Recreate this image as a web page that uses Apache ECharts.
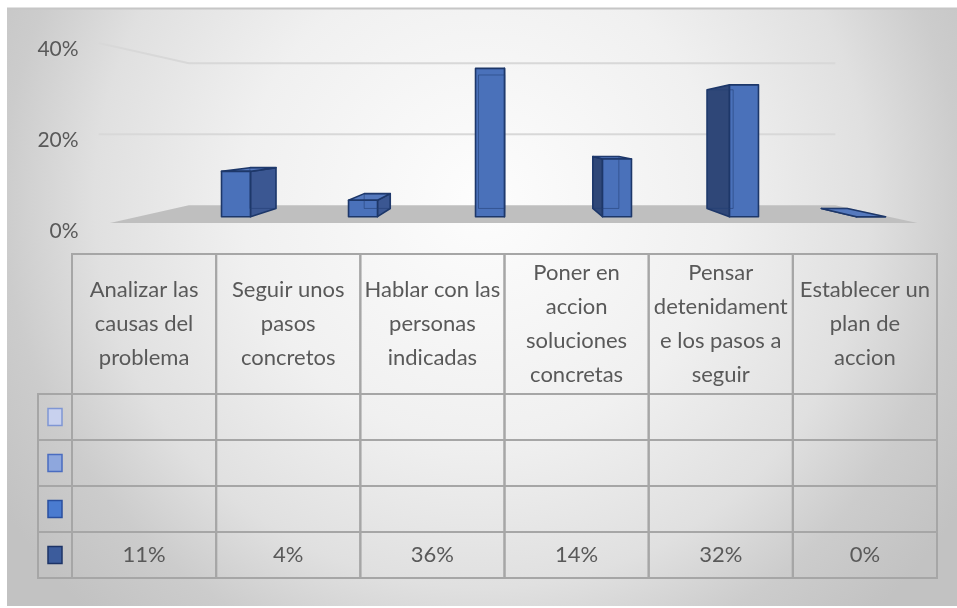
<!DOCTYPE html>
<html>
<head>
<meta charset="utf-8">
<script src="https://cdn.jsdelivr.net/npm/echarts@6/dist/echarts.min.js"></script>
<style>
  html, body { margin: 0; padding: 0; background: #ffffff; }
  #chart { width: 957px; height: 608px; }
</style>
</head>
<body>
<div id="chart"></div>
<script>
// ---- data ----
const categories = [
  'Analizar las causas del problema',
  'Seguir unos pasos concretos',
  'Hablar con las personas indicadas',
  'Poner en accion soluciones concretas',
  'Pensar detenidamente los pasos a seguir',
  'Establecer un plan de accion'
];
// header text of the data table, wrapped the way the cells wrap it
const headerLines = [
  ['Analizar las', 'causas del', 'problema'],
  ['Seguir unos', 'pasos', 'concretos'],
  ['Hablar con las', 'personas', 'indicadas'],
  ['Poner en', 'accion', 'soluciones', 'concretas'],
  ['Pensar', 'detenidament', 'e los pasos a', 'seguir'],
  ['Establecer un', 'plan de', 'accion']
];
const values = [11, 4, 36, 14, 32, 0];
const yTicks = [0, 20, 40];

// ---- styling ----
const FONT = 'Lato, "Noto Sans", sans-serif';
const TEXT = '#595959';
const GRID_LINE = '#d8d8d8';
const FLOOR = '#bfbfbf';
const FRONT = '#4a71ba';
const SIDE_R = '#3b5792';
const SIDE_L = '#2f4778';
const TOP = '#5579be';
const EDGE = '#1d3769';
const TABLE_LINE = '#a6a6a6';
// legend keys of the four table rows (only the last row holds numbers)
const keyFill = ['#c8d1ee', '#8ea7dd', '#4a7bd0', '#3c5c9c'];
const keyStroke = ['#7f96d4', '#4a6cc0', '#2a4f9e', '#1c3366'];

// ---- perspective of the 3-D plot ----
const VP_CAT = 2.12;       // vanishing point, in category units
const VP_VALUE = 20;       // horizon height, in value units
const BAR_BACK = 0.9;      // depth scale of the back of the columns
const WALL = 0.862;        // depth scale of the back wall
const FLOOR_FRONT = 1.077; // depth scale of the front edge of the floor
const SIDE_FRONT = 1.108;  // front end of the side-wall gridlines
const HALF_W = 0.114;      // half column width, in category units
const WALL_FROM = -0.77, WALL_TO = 5.135;

function projector(api) {
  const x0 = api.coord([0, 0])[0];
  const band = api.coord([1, 0])[0] - x0;
  const vx = x0 + VP_CAT * band;
  const vy = api.coord([0, VP_VALUE])[1];
  const fn = function (c, v, r) {
    const x = x0 + c * band;
    const y = api.coord([0, v])[1];
    return [vx + r * (x - vx), vy + r * (y - vy)];
  };
  fn.vx = vx;
  fn.vy = vy;
  return fn;
}

const chart = echarts.init(document.getElementById('chart'));

const option = {
  animation: false,
  graphic: [
    {
      type: 'rect',
      z: -10,
      shape: { x: 7, y: 8, width: 950, height: 598 },
      style: {
        fill: {
          type: 'radial', x: 482, y: 200, r: 570, global: true,
          colorStops: [
            { offset: 0, color: '#fdfdfd' },
            { offset: 0.42, color: '#f0f0f0' },
            { offset: 0.68, color: '#e0e0e0' },
            { offset: 0.84, color: '#cccccc' },
            { offset: 1, color: '#c2c2c2' }
          ]
        }
      }
    },
    {
      type: 'line',
      z: -9,
      shape: { x1: 7, y1: 8.5, x2: 957, y2: 8.5 },
      style: { stroke: '#c6c6c6', lineWidth: 2 }
    }
  ],
  grid: [
    { left: 172.5, right: 22.5, top: 51.9, bottom: 391.3 },
    { left: 72, right: 20, top: 254, bottom: 30 }
  ],
  xAxis: [
    { gridIndex: 0, type: 'category', data: categories, show: false },
    { gridIndex: 1, type: 'category', data: categories, show: false }
  ],
  yAxis: [
    { gridIndex: 0, type: 'value', min: 0, max: 40, show: false },
    { gridIndex: 1, type: 'value', min: 0, max: 1, show: false }
  ],
  series: [
    {
      // floor, walls' gridlines and the value labels
      type: 'custom',
      xAxisIndex: 0, yAxisIndex: 0,
      z: 1,
      silent: true,
      data: [[0, 0]],
      renderItem: function (params, api) {
        const P = projector(api);
        const children = [];
        children.push({
          type: 'polygon',
          shape: { points: [
            P(WALL_FROM, 0, WALL), P(WALL_TO, 0, WALL),
            P(WALL_TO, 0, FLOOR_FRONT), P(WALL_FROM, 0, FLOOR_FRONT)
          ] },
          style: { fill: FLOOR }
        });
        yTicks.forEach(function (t) {
          if (t > 0) {
            children.push({
              type: 'polyline',
              shape: { points: [
                P(WALL_FROM, t, SIDE_FRONT), P(WALL_FROM, t, WALL), P(WALL_TO, t, WALL)
              ] },
              style: { stroke: GRID_LINE, lineWidth: 2, fill: null }
            });
          }
          const p = P(WALL_FROM, t, SIDE_FRONT);
          children.push({
            type: 'text',
            x: p[0] - 20, y: p[1] + 6,
            style: {
              text: t + '%', align: 'right', verticalAlign: 'middle',
              font: '21px ' + FONT, fill: TEXT
            }
          });
        });
        return { type: 'group', children: children };
      }
    },
    {
      // 3-D columns
      type: 'custom',
      xAxisIndex: 0, yAxisIndex: 0,
      z: 3,
      data: values.map(function (v, i) { return [i, v]; }),
      renderItem: function (params, api) {
        const P = projector(api);
        const i = api.value(0), v = api.value(1);
        const L = i - HALF_W, R = i + HALF_W;
        const fTL = P(L, v, 1), fTR = P(R, v, 1), fBR = P(R, 0, 1), fBL = P(L, 0, 1);
        const bTL = P(L, v, BAR_BACK), bTR = P(R, v, BAR_BACK),
              bBR = P(R, 0, BAR_BACK), bBL = P(L, 0, BAR_BACK);
        const edge = { stroke: EDGE, lineWidth: 1.6, lineJoin: 'round' };
        const children = [];
        if (fTR[0] < P.vx) {
          children.push({ type: 'polygon', shape: { points: [fTR, bTR, bBR, fBR] },
            style: Object.assign({ fill: SIDE_R }, edge) });
        }
        if (fTL[0] > P.vx) {
          children.push({ type: 'polygon', shape: { points: [fTL, bTL, bBL, fBL] },
            style: Object.assign({ fill: SIDE_L }, edge) });
        }
        if (v < VP_VALUE) {
          children.push({ type: 'polygon', shape: { points: [fTL, fTR, bTR, bTL] },
            style: Object.assign({ fill: TOP }, edge) });
        }
        children.push({ type: 'polygon', shape: { points: [fTL, fTR, fBR, fBL] },
          style: Object.assign({ fill: FRONT }, edge) });
        // rear edges seen through the glassy front face
        children.push({ type: 'polyline', shape: { points: [bTL, bTR, bBR, bBL, bTL] },
          style: { stroke: 'rgba(35,62,115,0.55)', lineWidth: 1, fill: null } });
        return { type: 'group', children: children };
      }
    },
    {
      // data table below the plot
      type: 'custom',
      xAxisIndex: 1, yAxisIndex: 1,
      z: 2,
      silent: true,
      data: values.map(function (v, i) { return [i, v]; }),
      renderItem: function (params, api) {
        const i = api.value(0), v = api.value(1);
        const cs = params.coordSys;
        const cx = api.coord([i, 0])[0];
        const w = api.size([1, 0])[0];
        const left = cx - w / 2;
        const headH = 140, rowH = (cs.height - headH) / 4;
        const line = { stroke: TABLE_LINE, lineWidth: 2, fill: null };
        const children = [];
        children.push({ type: 'rect', shape: { x: left, y: cs.y, width: w, height: headH }, style: line });
        for (let r = 0; r < 4; r++) {
          children.push({ type: 'rect',
            shape: { x: left, y: cs.y + headH + r * rowH, width: w, height: rowH }, style: line });
        }
        const lines = headerLines[i];
        const lh = 34;
        lines.forEach(function (t, k) {
          children.push({
            type: 'text',
            x: cx, y: cs.y + headH / 2 + (k - (lines.length - 1) / 2) * lh,
            style: { text: t, align: 'center', verticalAlign: 'middle',
              font: '22px ' + FONT, fill: TEXT }
          });
        });
        children.push({
          type: 'text',
          x: cx, y: cs.y + headH + 3.5 * rowH,
          style: { text: v + '%', align: 'center', verticalAlign: 'middle',
            font: '22px ' + FONT, fill: TEXT }
        });
        if (i === 0) {
          const kw = 34;
          for (let r = 0; r < 4; r++) {
            const y0 = cs.y + headH + r * rowH;
            children.push({ type: 'rect',
              shape: { x: left - kw, y: y0, width: kw, height: rowH }, style: line });
            children.push({ type: 'rect',
              shape: { x: left - kw / 2 - 7, y: y0 + rowH / 2 - 8.5, width: 14, height: 17 },
              style: { fill: keyFill[r], stroke: keyStroke[r], lineWidth: 1.5 } });
          }
        }
        return { type: 'group', children: children };
      }
    }
  ]
};

chart.setOption(option);
</script>
</body>
</html>
